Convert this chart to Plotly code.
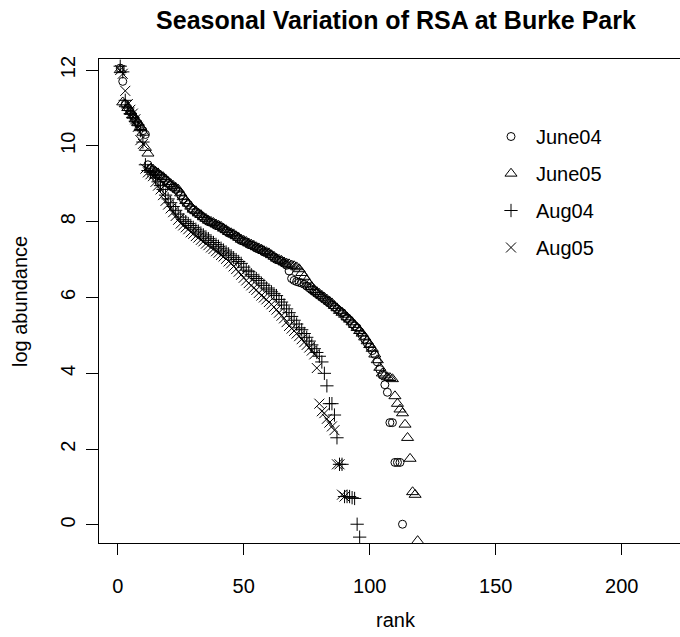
import plotly.graph_objects as go

# Rank-abundance data: log abundance of each taxon, ordered by rank (1 = most abundant)
june04 = [
    12.05, 11.7, 11.1, 11.0, 10.9, 10.8, 10.7, 10.6, 10.5, 10.4, 10.3, 9.5,
    9.4, 9.35, 9.3, 9.25, 9.2, 9.15, 9.1, 9.0,
    8.95, 8.9, 8.85, 8.8, 8.7, 8.6, 8.5, 8.45, 8.35, 8.3,
    8.25, 8.2, 8.15, 8.1, 8.05, 8.0, 7.98, 7.95, 7.9, 7.88,
    7.85, 7.8, 7.75, 7.7, 7.68, 7.65, 7.6, 7.55, 7.5, 7.48,
    7.45, 7.4, 7.38, 7.35, 7.3, 7.28, 7.25, 7.2, 7.18, 7.15,
    7.1, 7.05, 7.0, 6.98, 6.95, 6.9, 6.85, 6.7, 6.5, 6.45,
    6.42, 6.4, 6.38, 6.35, 6.3, 6.25, 6.2, 6.15, 6.1, 6.05,
    6.0, 5.95, 5.9, 5.85, 5.8, 5.75, 5.7, 5.65, 5.6, 5.5,
    5.45, 5.4, 5.3, 5.25, 5.2, 5.1, 5.0, 4.9, 4.8, 4.7,
    4.6, 4.5, 4.3, 4.1, 3.95, 3.7, 3.5, 2.7, 2.7, 1.65,
    1.65, 1.65, 0.02,
]

june05 = [
    12.0, 11.15, 11.1, 11.0, 10.9, 10.8, 10.7, 10.6, 10.5, 10.35, 9.95, 9.8,
    9.4, 9.38, 9.32, 9.28, 9.22, 9.18, 9.12, 9.05,
    9.0, 8.95, 8.9, 8.85, 8.75, 8.65, 8.55, 8.48, 8.4, 8.32,
    8.28, 8.22, 8.18, 8.12, 8.08, 8.03, 8.0, 7.97, 7.93, 7.9,
    7.87, 7.82, 7.78, 7.73, 7.7, 7.67, 7.62, 7.58, 7.53, 7.5,
    7.47, 7.43, 7.4, 7.37, 7.33, 7.3, 7.27, 7.23, 7.2, 7.17,
    7.12, 7.08, 7.03, 7.0, 6.97, 6.93, 6.9, 6.88, 6.85, 6.83,
    6.8, 6.75, 6.65, 6.55, 6.45, 6.35, 6.28, 6.2, 6.15, 6.1,
    6.05, 6.0, 5.95, 5.9, 5.85, 5.78, 5.72, 5.65, 5.6, 5.55,
    5.48, 5.42, 5.35, 5.28, 5.2, 5.12, 5.05, 4.95, 4.85, 4.75,
    4.65, 4.5, 4.35, 4.15, 4.0, 3.95, 3.9, 3.88, 3.85, 3.4,
    3.2, 3.05, 2.95, 2.65, 2.3, 1.75, 0.87, 0.8, -0.42,
]

aug04 = [
    12.1, 11.95, 11.2, 11.0, 10.85, 10.75, 10.65, 10.55, 10.4, 10.1, 9.5, 9.35,
    9.3, 9.25, 9.15, 9.05, 8.95, 8.85, 8.7, 8.6,
    8.5, 8.4, 8.3, 8.2, 8.12, 8.05, 8.0, 7.95, 7.9, 7.85,
    7.8, 7.75, 7.7, 7.65, 7.6, 7.55, 7.5, 7.45, 7.4, 7.35,
    7.3, 7.25, 7.2, 7.15, 7.1, 7.05, 7.0, 6.95, 6.9, 6.8,
    6.72, 6.68, 6.6, 6.55, 6.5, 6.45, 6.38, 6.32, 6.25, 6.2,
    6.15, 6.1, 6.05, 5.95, 5.88, 5.8, 5.7, 5.6, 5.5, 5.4,
    5.3, 5.2, 5.15, 5.05, 4.95, 4.85, 4.75, 4.65, 4.55, 4.45,
    4.3, 4.0, 3.67, 3.2, 3.2, 2.9, 2.3, 1.6, 1.6, 0.75,
    0.75, 0.75, 0.72, 0.7, 0.02, -0.32,
]

aug05 = [
    12.0, 11.9, 11.45, 11.1, 10.95, 10.85, 10.7, 10.5, 10.15, 10.05, 9.4, 9.3,
    9.25, 9.2, 9.05, 8.95, 8.85, 8.7, 8.55, 8.45,
    8.35, 8.25, 8.15, 8.05, 7.95, 7.9, 7.85, 7.8, 7.72, 7.68,
    7.62, 7.58, 7.52, 7.48, 7.42, 7.38, 7.32, 7.28, 7.22, 7.18,
    7.12, 7.08, 7.02, 6.95, 6.9, 6.82, 6.75, 6.68, 6.6, 6.52,
    6.45, 6.38, 6.32, 6.25, 6.2, 6.12, 6.05, 6.0, 5.95, 5.88,
    5.82, 5.75, 5.68, 5.6, 5.52, 5.45, 5.35, 5.25, 5.18, 5.12,
    5.05, 4.98, 4.9, 4.82, 4.75, 4.68, 4.6, 4.5, 4.14, 3.2,
    3.0, 2.95, 2.8, 2.7, 2.6, 2.5, 1.6, 1.6, 0.8, 0.75,
]

series_names = ["June04", "June05", "Aug04", "Aug05"]
series_values = [june04, june05, aug04, aug05]
x_ticks = [0, 50, 100, 150, 200]
y_ticks = [0, 2, 4, 6, 8, 10, 12]

# R-style plotting characters: pch 1, 2, 3, 4
symbols = ["circle-open", "triangle-up-open", "cross-thin-open", "x-thin-open"]
sizes = [8, 10.5, 9.5, 10]

FONT = "Liberation Sans, Arial, Helvetica, sans-serif"

fig = go.Figure()
for name, vals, sym, sz in zip(series_names, series_values, symbols, sizes):
    fig.add_trace(go.Scatter(
        x=list(range(1, len(vals) + 1)),
        y=vals,
        mode="markers",
        name=name,
        legendgroup=name,
        marker=dict(symbol=sym, size=sz, color="black",
                    line=dict(color="black", width=1)),
    ))

W, H = 680, 637
L, R, T, B = 99, 0, 59, 94
pw, ph = W - L - R, H - T - B

axis_common = dict(
    ticks="outside", tickwidth=1, tickcolor="black",
    showline=True, linecolor="black", linewidth=1,
    showgrid=False, zeroline=False,
    tickfont=dict(family=FONT, size=20, color="black"),
)

fig.update_layout(
    width=W, height=H,
    margin=dict(l=L, r=R, t=T, b=B, pad=0),
    paper_bgcolor="white", plot_bgcolor="white",
    font=dict(family=FONT, size=20, color="black"),
    title=dict(text="<b>Seasonal Variation of RSA at Burke Park</b>",
               x=396 / W, xanchor="center", y=1 - 20 / H, yanchor="middle",
               font=dict(family=FONT, size=25, color="black")),
    showlegend=True,
    legend=dict(x=(486 - L) / pw, xanchor="left",
                y=(T + ph - 117) / ph, yanchor="top",
                bgcolor="rgba(0,0,0,0)", borderwidth=0,
                font=dict(family=FONT, size=20, color="black"),
                itemwidth=40,
                traceorder="grouped", tracegroupgap=8),
    xaxis=dict(range=[-7.42, 223.1], tickvals=x_ticks, ticklen=11,
               mirror=True, ticklabelstandoff=14, **axis_common),
    yaxis=dict(range=[-0.475, 12.29], tickvals=y_ticks, ticklen=12,
               tickangle=-90, ticklabelstandoff=3, **axis_common),
    annotations=[
        dict(text="rank", xref="paper", yref="paper",
             x=(396 - L) / pw, y=-(620 - T - ph) / ph, xanchor="center", yanchor="middle",
             showarrow=False, font=dict(family=FONT, size=20)),
        dict(text="log abundance", xref="paper", yref="paper",
             x=(20 - L) / pw, y=0.5, xanchor="center", yanchor="middle", textangle=-90,
             showarrow=False, font=dict(family=FONT, size=20)),
    ],
)

fig.write_html("out.html")
